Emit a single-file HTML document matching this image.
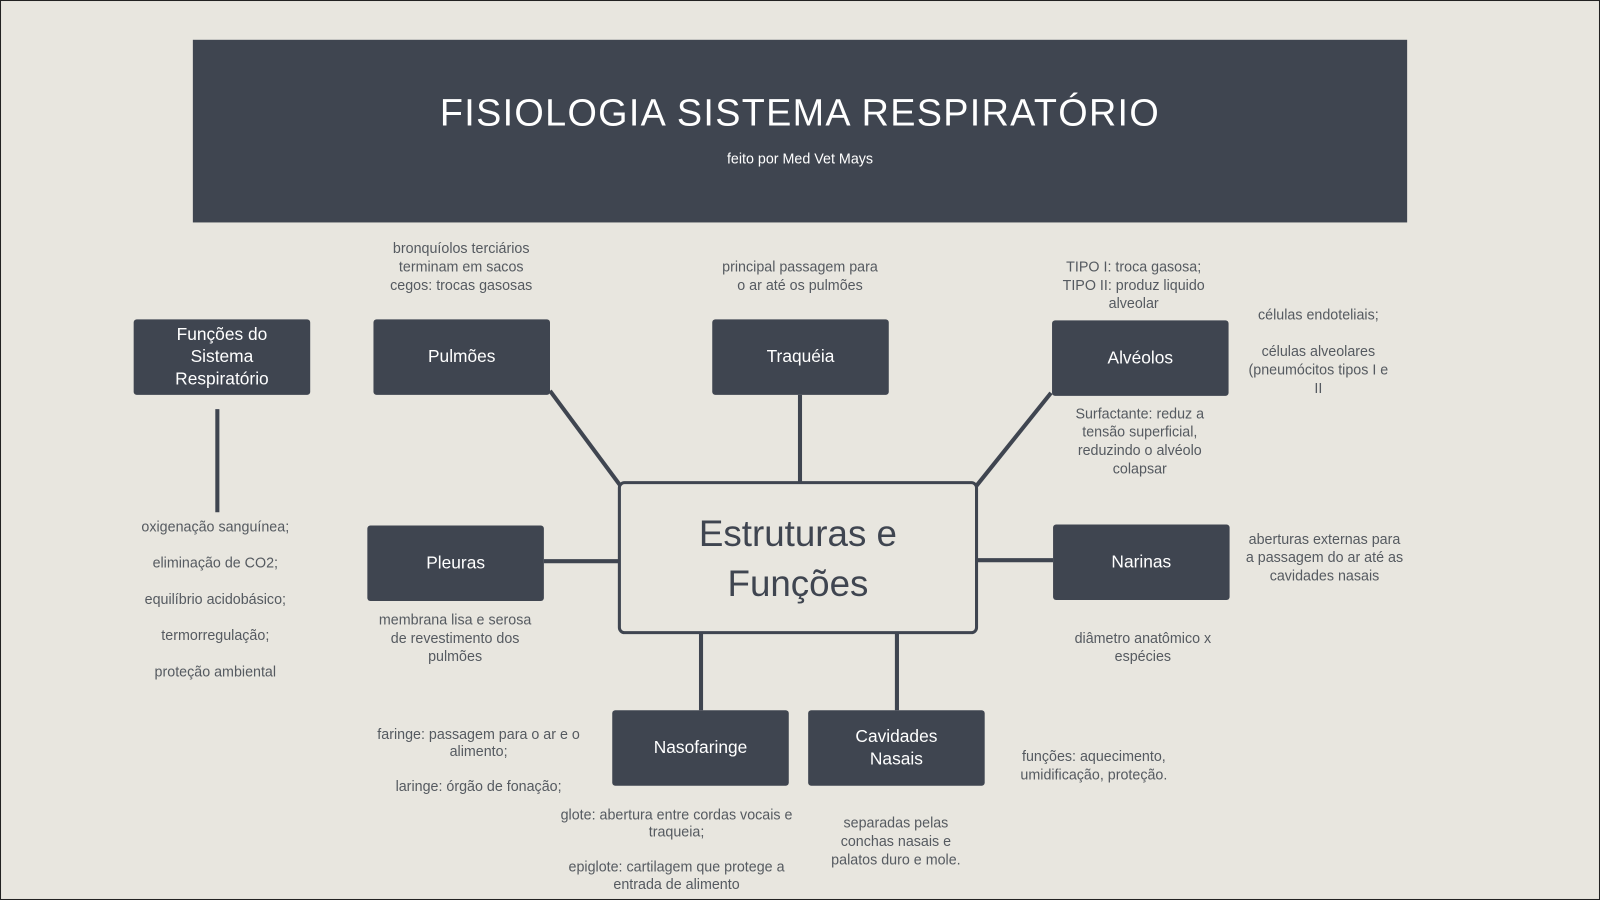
<!DOCTYPE html>
<html><head><meta charset="utf-8"><style>
html,body{margin:0;padding:0;width:1600px;height:900px;overflow:hidden;background:#e8e6df;}
#w{position:absolute;left:0;top:0;width:1568px;height:882px;transform:scale(1.020408);transform-origin:0 0;font-family:"Liberation Sans",sans-serif;}
.b{position:absolute;background:#3f4550;border-radius:3px;color:#fff;font-size:17px;display:flex;align-items:center;justify-content:center;text-align:center;line-height:22px;}
.t{position:absolute;color:#555a60;font-size:14px;text-align:center;line-height:18px;}
</style></head><body><div id="w">
<div style="position:absolute;left:0;top:0;width:1566px;height:880px;border:1px solid #222;"></div>
<div style="position:absolute;left:189px;top:39px;width:1190px;height:179px;background:#3f4550;"></div>
<div style="position:absolute;left:189px;top:90px;width:1190px;text-align:center;color:#fff;font-size:37px;letter-spacing:1.3px;">FISIOLOGIA SISTEMA RESPIRATÓRIO</div>
<div style="position:absolute;left:189px;top:147px;width:1190px;text-align:center;color:#fff;font-size:14px;">feito por Med Vet Mays</div>
<svg style="position:absolute;left:0;top:0" width="1568" height="882">
<g stroke="#3f4550" stroke-width="4" fill="none">
<line x1="213" y1="401" x2="213" y2="502"/>
<line x1="539" y1="383" x2="608" y2="476"/>
<line x1="784" y1="387" x2="784" y2="472"/>
<line x1="1030" y1="385" x2="957" y2="476"/>
<line x1="533" y1="550" x2="607" y2="550"/>
<line x1="957" y1="549" x2="1032" y2="549"/>
<line x1="687" y1="620" x2="687" y2="696"/>
<line x1="879" y1="620" x2="879" y2="696"/>
<rect x="607" y="473" width="350" height="147" rx="5" stroke-width="3"/>
</g></svg>
<div style="position:absolute;left:607px;top:498px;width:350px;text-align:center;color:#3f4550;font-size:36px;line-height:49px;">Estruturas e<br>Funções</div>
<div class="b" style="left:131px;top:313px;width:173px;height:74px;">Funções do<br>Sistema<br>Respiratório</div>
<div class="b" style="left:366px;top:313px;width:173px;height:74px;">Pulmões</div>
<div class="b" style="left:698px;top:313px;width:173px;height:74px;">Traquéia</div>
<div class="b" style="left:1031px;top:314px;width:173px;height:74px;">Alvéolos</div>
<div class="b" style="left:360px;top:515px;width:173px;height:74px;">Pleuras</div>
<div class="b" style="left:1032px;top:514px;width:173px;height:74px;">Narinas</div>
<div class="b" style="left:600px;top:696px;width:173px;height:74px;">Nasofaringe</div>
<div class="b" style="left:792px;top:696px;width:173px;height:74px;">Cavidades<br>Nasais</div>
<div class="t" style="left:352px;top:234px;width:200px;">bronquíolos terciários<br>terminam em sacos<br>cegos: trocas gasosas</div>
<div class="t" style="left:684px;top:252px;width:200px;">principal passagem para<br>o ar até os pulmões</div>
<div class="t" style="left:1011px;top:252px;width:200px;">TIPO I: troca gasosa;<br>TIPO II: produz liquido<br>alveolar</div>
<div class="t" style="left:1202px;top:299px;width:180px;">células endoteliais;<br><br>células alveolares<br>(pneumócitos tipos I e<br>II</div>
<div class="t" style="left:1027px;top:396px;width:180px;">Surfactante: reduz a<br>tensão superficial,<br>reduzindo o alvéolo<br>colapsar</div>
<div class="t" style="left:1198px;top:519px;width:200px;">aberturas externas para<br>a passagem do ar até as<br>cavidades nasais</div>
<div class="t" style="left:1020px;top:616px;width:200px;">diâmetro anatômico x<br>espécies</div>
<div class="t" style="left:346px;top:598px;width:200px;">membrana lisa e serosa<br>de revestimento dos<br>pulmões</div>
<div class="t" style="left:111px;top:508px;width:200px;line-height:17.7px;">oxigenação sanguínea;<br><br>eliminação de CO2;<br><br>equilíbrio acidobásico;<br><br>termorregulação;<br><br>proteção ambiental</div>
<div class="t" style="left:354px;top:711px;width:230px;line-height:17px;">faringe: passagem para o ar e o<br>alimento;<br><br>laringe: órgão de fonação;</div>
<div class="t" style="left:538px;top:790px;width:250px;line-height:17px;">glote: abertura entre cordas vocais e<br>traqueia;<br><br>epiglote: cartilagem que protege a<br>entrada de alimento</div>
<div class="t" style="left:778px;top:797px;width:200px;">separadas pelas<br>conchas nasais e<br>palatos duro e mole.</div>
<div class="t" style="left:972px;top:732px;width:200px;">funções: aquecimento,<br>umidificação, proteção.</div>
</div></body></html>
